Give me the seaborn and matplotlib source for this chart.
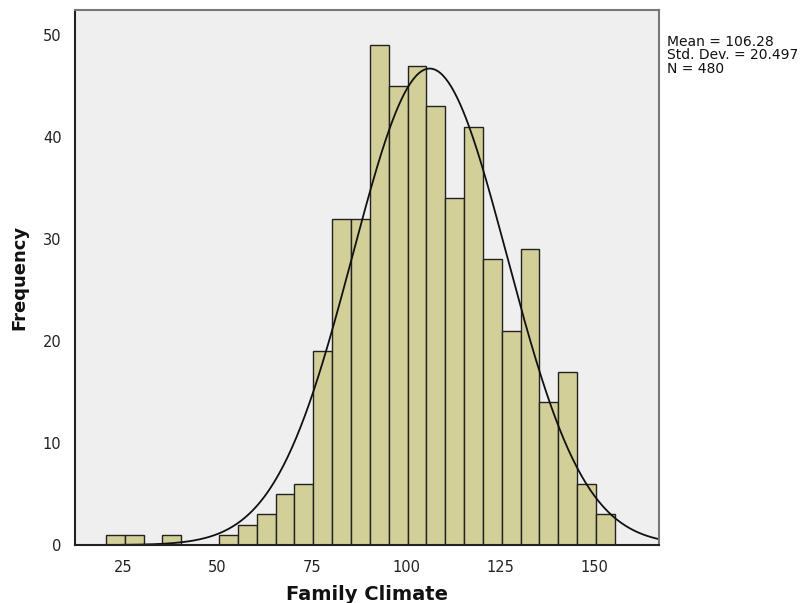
import numpy as np
import pandas as pd
import seaborn as sns
import matplotlib
matplotlib.use("Agg")
import matplotlib.pyplot as plt

# Histogram data (bins of width 5)
bin_edges = [20.4 + 5 * i for i in range(28)]
counts = [1, 1, 0, 1, 0, 0, 1, 2, 3, 5, 6, 19, 32, 32, 49, 45, 47, 43,
          34, 41, 28, 21, 29, 14, 17, 6, 3]
mean_val = 106.28
std_val = 20.497
n_val = 480
x_ticks = [25, 50, 75, 100, 125, 150]
y_ticks = [0, 10, 20, 30, 40, 50]

sns.set_style("white")
plt.rcParams['font.family'] = ['DejaVu Sans']

centers = [(bin_edges[i] + bin_edges[i + 1]) / 2 for i in range(len(counts))]
df = pd.DataFrame({"Family Climate": centers, "count": counts})

fig = plt.figure(figsize=(8.11, 6.03), dpi=100)
ax = fig.add_axes([0.0929, 0.0962, 0.7197, 0.888])
ax.set_facecolor("#EFEFEF")

sns.histplot(data=df, x="Family Climate", weights="count", bins=bin_edges,
             color="#D3CF98", edgecolor="#222222", linewidth=1.0, alpha=1.0,
             ax=ax)

# Fitted normal curve
xs = np.linspace(12.3, 167.1, 400)
bw = 5.0
ys = n_val * bw / (std_val * np.sqrt(2 * np.pi)) * np.exp(-0.5 * ((xs - mean_val) / std_val) ** 2)
sns.lineplot(x=xs, y=ys, color="#111111", linewidth=1.3, ax=ax)

ax.set_xlim(12.3, 167.1)
ax.set_ylim(0, 52.5)
ax.set_xticks(x_ticks)
ax.set_yticks(y_ticks)
ax.tick_params(axis="both", direction="out", length=6, width=1.2, color="#333333",
               labelsize=10.5, labelcolor="#222222", pad=4)
ax.tick_params(axis="x", length=7)

for side in ["left", "bottom"]:
    ax.spines[side].set_color("#222222")
    ax.spines[side].set_linewidth(1.5)
for side in ["top", "right"]:
    ax.spines[side].set_visible(True)
    ax.spines[side].set_color("#777777")
    ax.spines[side].set_linewidth(1.5)

ax.set_xlabel("Family Climate", fontsize=14, fontweight="bold", color="#111111", labelpad=7)
ax.set_ylabel("Frequency", fontsize=13, fontweight="bold", color="#111111", labelpad=10)

fig.text(0.823, 0.942, f"Mean = {mean_val:.2f}\nStd. Dev. = {std_val:.3f}\nN = {n_val}",
         fontsize=10, color="#111111", va="top", ha="left", linespacing=0.95)

fig.savefig("out.png", dpi=100)
